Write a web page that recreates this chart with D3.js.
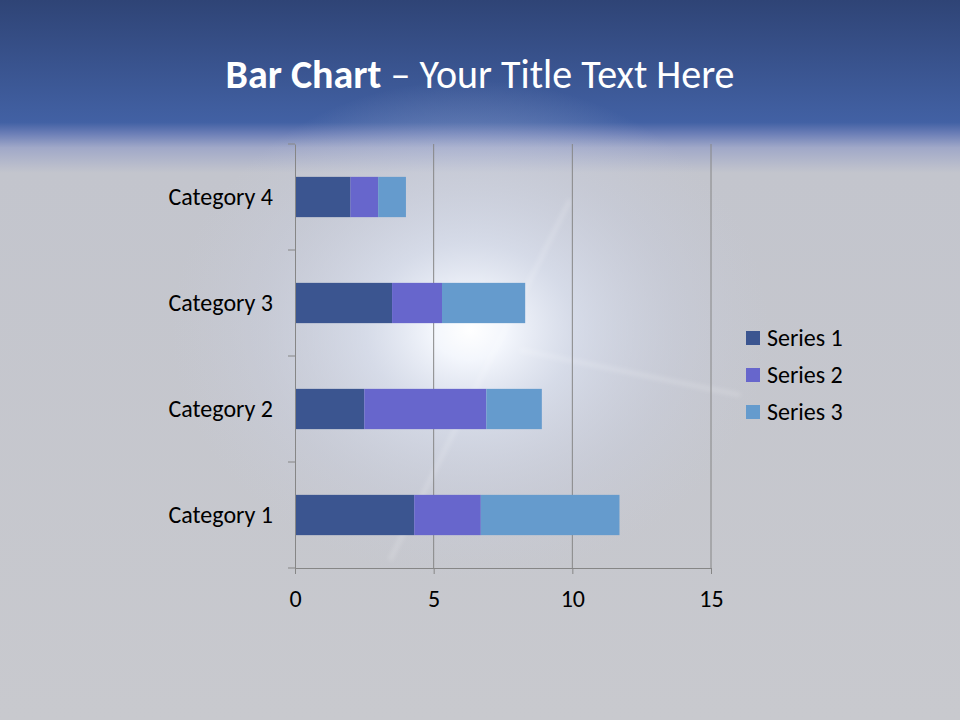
<!DOCTYPE html>
<html><head><meta charset="utf-8">
<script src="https://cdn.jsdelivr.net/npm/d3@7"></script>
<style>html,body{margin:0;padding:0;}svg{display:block;}</style>
</head><body>
<svg id="c" width="960" height="720"></svg>
<script>
const categories = ["Category 1","Category 2","Category 3","Category 4"];
const series1 = [4.3, 2.5, 3.5, 2];
const series2 = [2.4, 4.4, 1.8, 1];
const series3 = [5, 2, 3, 1];
const seriesNames = ["Series 1","Series 2","Series 3"];
const xTicks = [0, 5, 10, 15];
const colors = ["#3b5590","#6766cc","#659bcd"];

(function(){
const FONT = "Carlito, 'Open Sans', sans-serif";
const svg = d3.select("#c");
const defs = svg.append("defs");
const bg = defs.append("linearGradient").attr("id","bg").attr("x1",0).attr("y1",0).attr("x2",0).attr("y2",1);
[[0,"#2f4476"],[0.17,"#4261a4"],[0.185,"#6a7db6"],[0.205,"#a0a8c8"],[0.24,"#c3c5cd"],[1,"#c8c9ce"]].forEach(s=>bg.append("stop").attr("offset",s[0]).attr("stop-color",s[1]));
const glow = defs.append("radialGradient").attr("id","glow").attr("cx",0.5).attr("cy",0.5).attr("r",0.5);
[[0,"#ffffff",1],[0.12,"#f6f9ff",0.95],[0.35,"#dfe6f6",0.65],[0.7,"#cdd3e6",0.3],[1,"#c8ccdc",0]].forEach(s=>glow.append("stop").attr("offset",s[0]).attr("stop-color",s[1]).attr("stop-opacity",s[2]));
defs.append("filter").attr("id","blur").append("feGaussianBlur").attr("stdDeviation",2);

svg.append("rect").attr("width",960).attr("height",720).attr("fill","url(#bg)");
svg.append("ellipse").attr("cx",470).attr("cy",330).attr("rx",300).attr("ry",250).attr("fill","url(#glow)");
svg.append("line").attr("x1",390).attr("y1",560).attr("x2",570).attr("y2",200).attr("stroke","#ffffff").attr("stroke-opacity",0.18).attr("stroke-width",4).attr("filter","url(#blur)");
svg.append("line").attr("x1",520).attr("y1",350).attr("x2",740).attr("y2",395).attr("stroke","#ffffff").attr("stroke-opacity",0.18).attr("stroke-width",4).attr("filter","url(#blur)");

// Title
const title = svg.append("text").attr("x",480).attr("y",88).attr("text-anchor","middle")
  .attr("fill","#ffffff").style("font-family",FONT).style("font-size","40px");
title.append("tspan").attr("font-weight","bold").text("Bar Chart");
title.append("tspan").text(" \u2013 Your Title Text Here");

const pLeft = 295, pRight = 711, pTop = 144, pBottom = 568;
const x = d3.scaleLinear().domain([0,15]).range([pLeft,pRight]);
const y = d3.scaleBand().domain(categories.slice().reverse()).range([pTop,pBottom]).paddingInner(0.62).paddingOuter(0.31);
const yEdge = d3.scaleBand().domain(categories.slice().reverse()).range([pTop,pBottom]);

// gridlines
svg.append("g").selectAll("line").data(xTicks.slice(1)).join("line")
  .attr("x1",d=>x(d)).attr("x2",d=>x(d)).attr("y1",pTop).attr("y2",pBottom)
  .attr("stroke","#868686").attr("stroke-width",1);

// stacked bars
const rows = categories.map((c,i)=>({cat:c, s0:series1[i], s1:series2[i], s2:series3[i]}));
const stack = d3.stack().keys(["s0","s1","s2"])(rows);
svg.append("g").selectAll("g").data(stack).join("g").attr("fill",(d,i)=>colors[i])
  .selectAll("rect").data(d=>d).join("rect")
  .attr("x",d=>x(d[0])).attr("width",d=>x(d[1])-x(d[0]))
  .attr("y",d=>y(d.data.cat)).attr("height",y.bandwidth());

// axes
const xAxis = svg.append("g").attr("transform",`translate(0,${pBottom})`)
  .call(d3.axisBottom(x).tickValues(xTicks).tickSize(6).tickPadding(16));
xAxis.select(".domain").attr("stroke","#868686");
xAxis.selectAll(".tick line").attr("stroke","#868686");
xAxis.selectAll("text").attr("fill","#000").style("font-family",FONT).style("font-size","24px");

const yAxis = svg.append("g").attr("transform",`translate(${pLeft},0)`)
  .call(d3.axisLeft(yEdge).tickSize(0).tickPadding(22));
yAxis.select(".domain").attr("stroke","#868686");
yAxis.selectAll("text").attr("fill","#000").style("font-family",FONT).style("font-size","24px");
svg.append("g").selectAll("line").data(d3.range(5)).join("line")
  .attr("x1",pLeft-7).attr("x2",pLeft).attr("y1",d=>pTop+d*yEdge.step()).attr("y2",d=>pTop+d*yEdge.step())
  .attr("stroke","#868686");

// legend
const lg = svg.append("g").selectAll("g").data(seriesNames).join("g")
  .attr("transform",(d,i)=>`translate(746,${331+i*37})`);
lg.append("rect").attr("width",14).attr("height",14).attr("fill",(d,i)=>colors[i]);
lg.append("text").attr("x",21).attr("y",7).attr("dy","0.35em").text(d=>d).attr("fill","#000")
  .style("font-family",FONT).style("font-size","24px");
})();
</script>
</body></html>
